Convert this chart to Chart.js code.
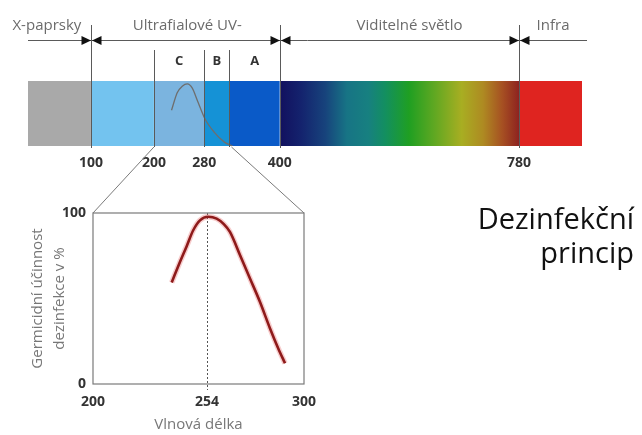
<!DOCTYPE html>
<html>
<head>
<meta charset="UTF-8">
<title>Dezinfekční princip</title>
<style>
  body { margin: 0; background: #fff; }
  .wrap { position: relative; width: 642px; height: 435px; }
  .wrap canvas { position: absolute; left: 0; top: 0; }
</style>
</head>
<body>
<div class="wrap">
  <canvas id="spectrum" width="642" height="435"></canvas>
  <canvas id="inset" width="642" height="435"></canvas>
</div>

<script src="https://cdn.jsdelivr.net/npm/chart.js@4.4.0/dist/chart.umd.min.js"></script>

<script>
// spectrum strip (nm)
const bandEdges = [0, 100, 200, 280, 320, 400, 780, 880];
const bandColors = ['#a9a9a9', '#73c3ef', '#7bb4df', '#1592d6', '#0a5ac8', 'visible', '#df2420'];
const spectrumTicks = [100, 200, 280, 400, 780];
const mainBounds = [100, 400, 780];
const uvBounds = [200, 280, 320];
const uvNames = ['C', 'B', 'A'];
const regionNames = ['X-paprsky', 'Ultrafialové UV-', 'Viditelné světlo', 'Infra'];
const regionCenters = [30, 253, 606, 834];
const visibleStops = [0, 0.09, 0.19, 0.28, 0.37, 0.44, 0.54, 0.65, 0.76, 0.85, 0.93, 1];
const visibleColors = ['#12105e', '#14236e', '#17437c', '#177485', '#178080', '#138f60',
                       '#1f9f22', '#62a822', '#a8ae22', '#ae8a22', '#a65022', '#8e2220'];
const miniX = [228, 237, 245, 253, 261, 269, 281, 296, 312, 325];
const miniY = [0.55, 0.82, 0.92, 0.955, 0.89, 0.70, 0.42, 0.21, 0.06, 0];

// germicidal efficiency inset
const waveX = [237.3, 241.2, 244.4, 247.5, 250.7, 254.6, 258.6, 262, 264.9, 269.7, 274.4, 279.1, 283.9, 287.8, 291];
const effY = [59.4, 71.3, 80.6, 89.9, 95.7, 97.8, 96.7, 93.5, 88.9, 75.3, 61.7, 48.1, 32.5, 20.8, 12.1];
const insetXTicks = [200, 254, 300];
const insetYTicks = [0, 100];
const peakWave = 254;
const headingLines = ['Dezinfekční', 'princip'];

Chart.defaults.font.family = '"Open Sans", sans-serif';

function visibleFill(ctx) {
  const chart = ctx.chart;
  if (!chart.chartArea) return visibleColors[0];
  const x = chart.scales.x;
  const g = chart.ctx.createLinearGradient(x.getPixelForValue(bandEdges[5]), 0, x.getPixelForValue(bandEdges[6]), 0);
  visibleStops.forEach((s, i) => g.addColorStop(s, visibleColors[i]));
  return g;
}

const bandSets = bandColors.map((c, i) => ({
  data: [{x: bandEdges[i], y: 1}, {x: bandEdges[i + 1], y: 1}],
  fill: 'origin',
  backgroundColor: c === 'visible' ? visibleFill : c,
  borderColor: 'transparent',
  borderWidth: 0,
  pointRadius: 0,
  order: 1
}));

const spectrumDecor = {
  id: 'spectrumDecor',
  afterDatasetsDraw(chart) {
    const {ctx, chartArea: a, scales: {x}} = chart;
    const px = v => Math.round(x.getPixelForValue(v)) + 0.5;
    const arrowY = a.top - 40.5;
    ctx.save();
    ctx.strokeStyle = '#5a5a5a';
    ctx.lineWidth = 1;
    ctx.beginPath();
    ctx.moveTo(a.left, arrowY);
    ctx.lineTo(a.right + 5, arrowY);
    mainBounds.forEach(v => { ctx.moveTo(px(v), a.top - 56); ctx.lineTo(px(v), a.bottom + 2); });
    uvBounds.forEach(v => { ctx.moveTo(px(v), a.top - 31); ctx.lineTo(px(v), a.bottom + 1); });
    ctx.stroke();

    ctx.fillStyle = '#111';
    mainBounds.forEach(v => {
      const c = px(v);
      ctx.beginPath();
      ctx.moveTo(c - 10, arrowY - 4.5); ctx.lineTo(c - 10, arrowY + 4.5); ctx.lineTo(c - 0.5, arrowY);
      ctx.closePath(); ctx.fill();
      ctx.beginPath();
      ctx.moveTo(c + 10, arrowY - 4.5); ctx.lineTo(c + 10, arrowY + 4.5); ctx.lineTo(c + 0.5, arrowY);
      ctx.closePath(); ctx.fill();
    });

    ctx.textAlign = 'center';
    ctx.textBaseline = 'alphabetic';
    ctx.font = '15px "Open Sans"';
    ctx.fillStyle = '#6b6b6b';
    regionNames.forEach((t, i) => ctx.fillText(t, x.getPixelForValue(regionCenters[i]), a.top - 51));

    ctx.font = 'bold 13px "Open Sans"';
    ctx.fillStyle = '#333';
    const uvEdges = [...uvBounds, mainBounds[1]];
    uvNames.forEach((t, i) => ctx.fillText(t, x.getPixelForValue((uvEdges[i] + uvEdges[i + 1]) / 2), a.top - 16));
    ctx.restore();
  }
};

const spectrum = new Chart(document.getElementById('spectrum'), {
  type: 'line',
  data: {
    datasets: [...bandSets, {
      data: miniX.map((v, i) => ({x: v, y: miniY[i]})),
      borderColor: '#6e6e6e',
      borderWidth: 1.3,
      pointRadius: 0,
      fill: false,
      cubicInterpolationMode: 'monotone',
      order: 0
    }]
  },
  options: {
    responsive: false,
    animation: false,
    events: [],
    layout: { padding: { left: 28, right: 60, top: 81, bottom: 259 } },
    plugins: { legend: { display: false }, tooltip: { enabled: false } },
    scales: {
      x: {
        type: 'linear', min: 0, max: 880,
        afterBuildTicks: s => { s.ticks = spectrumTicks.map(v => ({value: v})); },
        afterFit: s => { s.height = 30; },
        grid: { display: false, drawTicks: false },
        border: { display: false },
        ticks: { font: { size: 14, weight: 'bold' }, color: '#333', padding: 9, maxRotation: 0, autoSkip: false }
      },
      y: { display: false, min: 0, max: 1 }
    }
  },
  plugins: [spectrumDecor]
});

const insetDecor = {
  id: 'insetDecor',
  beforeDatasetsDraw(chart) {
    const {ctx, chartArea: a, scales: {x}} = chart;
    const c = Math.round(x.getPixelForValue(peakWave)) + 0.5;
    ctx.save();
    ctx.strokeStyle = '#555';
    ctx.lineWidth = 1;
    ctx.setLineDash([2, 2]);
    ctx.beginPath();
    ctx.moveTo(c, a.top);
    ctx.lineTo(c, a.bottom + 6);
    ctx.stroke();
    ctx.restore();
  },
  afterDraw(chart) {
    const {ctx, chartArea: a} = chart;
    const top = spectrum.chartArea;
    const sx = spectrum.scales.x;
    ctx.save();
    ctx.strokeStyle = '#7a7a7a';
    ctx.lineWidth = 1.2;
    ctx.strokeRect(a.left, a.top, a.right - a.left, a.bottom - a.top);
    ctx.lineWidth = 1;
    ctx.beginPath();
    ctx.moveTo(sx.getPixelForValue(uvBounds[0]), top.bottom + 1);
    ctx.lineTo(a.left, a.top);
    ctx.moveTo(sx.getPixelForValue(uvBounds[2]) + 2, top.bottom + 1);
    ctx.lineTo(a.right, a.top);
    ctx.stroke();

    ctx.fillStyle = '#111';
    ctx.font = '29px "Open Sans"';
    ctx.textAlign = 'right';
    ctx.textBaseline = 'alphabetic';
    ctx.fillText(headingLines[0], chart.width - 8, 229);
    ctx.fillText(headingLines[1], chart.width - 8, 263);
    ctx.restore();
  }
};

const effPoints = waveX.map((v, i) => ({x: v, y: effY[i]}));

new Chart(document.getElementById('inset'), {
  type: 'line',
  data: {
    datasets: [{
      data: effPoints,
      borderColor: '#8e1a1a',
      borderWidth: 2.6,
      pointRadius: 0,
      cubicInterpolationMode: 'monotone'
    }, {
      data: effPoints,
      borderColor: 'rgba(230,90,90,0.3)',
      borderWidth: 5.5,
      pointRadius: 0,
      cubicInterpolationMode: 'monotone'
    }]
  },
  options: {
    responsive: false,
    animation: false,
    events: [],
    layout: { padding: { left: 0, right: 338, top: 213, bottom: 0 } },
    plugins: { legend: { display: false }, tooltip: { enabled: false } },
    scales: {
      x: {
        type: 'linear', min: 200, max: 300,
        afterBuildTicks: s => { s.ticks = insetXTicks.map(v => ({value: v})); },
        afterFit: s => { s.height = 51; },
        grid: { display: false, drawTicks: false },
        border: { display: false },
        ticks: { font: { size: 14, weight: 'bold' }, color: '#333', padding: 10, maxRotation: 0, autoSkip: false },
        title: { display: true, text: 'Vlnová délka', color: '#777', font: { size: 15 }, padding: { top: 0, bottom: 1 } }
      },
      y: {
        min: 0, max: 100,
        afterBuildTicks: s => { s.ticks = insetYTicks.map(v => ({value: v})); },
        afterFit: s => { s.width = 93; },
        grid: { display: false, drawTicks: false },
        border: { display: false },
        ticks: { font: { size: 14, weight: 'bold' }, color: '#333', padding: 7 },
        title: {
          display: true,
          text: ['Germicidní účinnost', 'dezinfekce v %'],
          color: '#777',
          font: { size: 15, lineHeight: 1.5 },
          padding: { top: 26, bottom: 0 }
        }
      }
    }
  },
  plugins: [insetDecor]
});
</script>
</body>
</html>
